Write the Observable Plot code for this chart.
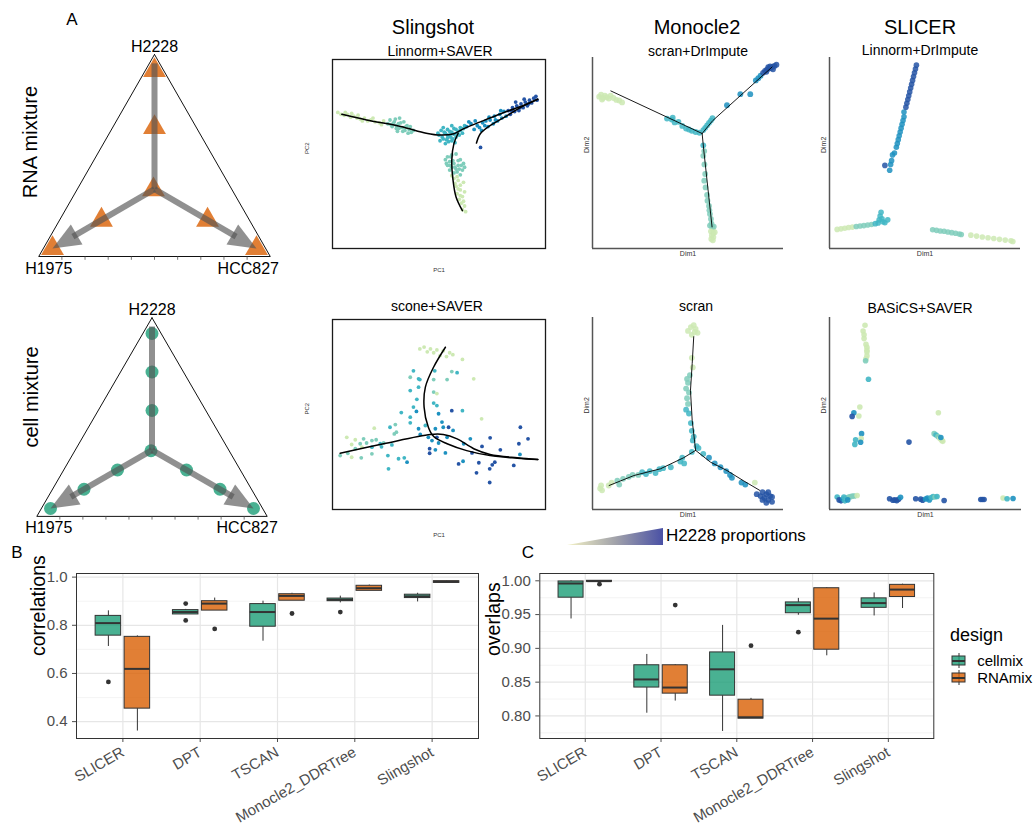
<!DOCTYPE html>
<html><head><meta charset="utf-8">
<script src="https://cdn.jsdelivr.net/npm/d3@7"></script>
<script src="https://cdn.jsdelivr.net/npm/@observablehq/plot@0.6"></script>
<style>
body{margin:0;background:#fff;}
#fig{position:relative;width:1036px;height:825px;overflow:hidden;font-family:"Liberation Sans",Arial,sans-serif;background:#fff;}
.lbl{position:absolute;white-space:nowrap;line-height:1;color:#000;}
</style></head><body><div id="fig"></div>
<script>
// ---------------- DATA ----------------
const ternCorners = ["H2228", "H1975", "HCC827"];
const rnaMix = [[1,0,0],[0.68,0.16,0.16],[0.33,0.33,0.33],[0.16,0.68,0.16],[0.16,0.16,0.68],[0,1,0],[0,0,1]];
const cellMix = [[1,0,0],[0.78,0.11,0.11],[0.56,0.22,0.22],[0.33,0.33,0.33],[0.22,0.56,0.22],[0.11,0.78,0.11],[0,1,0],[0.22,0.22,0.56],[0.11,0.11,0.78],[0,0,1]];
const ternFrame = [[1.09,-0.045,-0.045],[-0.045,1.09,-0.045],[-0.045,-0.045,1.09]];
const ternTicks = [0.1,0.2,0.3,0.4,0.5,0.6,0.7,0.8,0.9];
const arrowTargets = [
  {corner:[1,0,0], head:false, angle:0},
  {corner:[0,1,0], head:true, angle:240},
  {corner:[0,0,1], head:true, angle:120}
];

const propStops = [0, 0.16, 0.33, 0.68, 1];
const propColors = ["#cde9b3", "#7fcdbb", "#41b6c4", "#1d91c0", "#2554a5"];
const legendRamp = [0, 1];

// Slingshot, Linnorm+SAVER : [PC1, PC2, H2228 proportion]
const slingTopPts = [
[2.5,72,0],[4,71,0],[5.5,70.5,0],[7,71,0],[8.5,69.5,0],[10,70,0],[11.5,69,0],[13,68.5,0],[15,69,0],[16.5,67.5,0],[18,68,0],[20,67,0],[22,66.5,0],[24,67.5,0],[6,72,0],[9,71.5,0],[12,70.5,0],[14,67.5,0],[19,69,0],[23,65.5,0],
[26,66,.16],[27,68,.16],[28,64.5,.16],[29,67,.16],[30,65,.16],[31,63.5,.16],[32,66.5,.16],[33,64,.16],[34,62.5,.16],[35,65,.16],[36,63,.16],[37,61.5,.16],[30.5,62,.16],[33.5,67,.16],
[28.5,66,.16],[29.5,68.5,.16],[31,66,.16],[32,64,.16],[33,62,.16],[34.5,64.5,.16],[35.5,61,.16],[36.5,64.5,.16],[38,62.5,.16],[31.5,69,.16],[30,63.5,.16],[27.5,65.5,.16],
[50,60,.33],[51,62.5,.33],[52,58,.33],[53,61,.33],[54,63,.33],[54.5,56.5,.33],[55.5,59,.33],[56,61.5,.33],[57,63.5,.33],[58,59,.33],[59,62,.33],[60,64,.33],[53,55.5,.33],[57.5,56,.33],[61,61,.33],[52,64,.33],[54,60,.33],[58.5,61,.33],[50.5,57,.33],[56,65,.33],
[51.5,59,.33],[52.5,61.5,.33],[53.5,57.5,.33],[55,62,.33],[55,60,.33],[56.5,58,.33],[57,60.5,.33],[58,63,.33],[59.5,60,.33],[60,62.5,.33],[61.5,63.5,.33],[62,65,.33],[49.5,61,.33],[54,58.5,.33],[56,57,.33],
[53,47,.16],[55,46,.16],[57,45,.16],[59,46.5,.16],[60.5,44,.16],[56,43,.16],[58,42,.16],[61,41.5,.16],[54,44,.16],[57,40,.16],[60,39,.16],[55.5,48.5,.16],[58,50,.16],
[53.5,45,.16],[55,44,.16],[56.5,46.5,.16],[57.5,43,.16],[59,44,.16],[60,47,.16],[61.5,45,.16],[62,43,.16],[55,41.5,.16],[58.5,40.5,.16],[56,49.5,.16],[54,48.5,.16],[59.5,42,.16],
[59,36,0],[57,37,0],[58,33,0],[60,31,0],[58.5,29,0],[61,27.5,0],[59.5,26,0],[60.5,24,0],[62,22.5,0],[61,20.5,0],[57.5,34.5,0],[62,30,0],[60,33.5,0],[58.5,38,0],[61.5,35,0],[59,31.5,0],[61.5,25,0],[60,28,0],[62.5,19.5,0],[56,38.5,0],
[63,64.5,.68],[65,66,.68],[66.5,63,.68],[68,65,.68],[70,62.5,.68],[70.5,66.5,.68],[72,67.5,.68],[73,64.5,.68],[74,68,.68],[75.5,66,.68],[76,70,.68],[77.5,67.5,.68],[78.5,71,.68],[79.5,69,.68],[80.5,72.5,.68],[81.5,70,.68],
[64,67,.68],[67,67.5,.68],[69,64,.68],[71.5,65,.68],[73.5,69.5,.68],[76.5,68,.68],[79,73,.68],
[82.5,73,1],[83.5,71,1],[84.5,74.5,1],[85.5,72.5,1],[86.5,75.5,1],[87.5,73,1],[88.5,76.5,1],[89.5,74.5,1],[90.5,77.5,1],[91.5,75.5,1],[92.5,78.5,1],[93.5,77,1],[94.5,79.5,1],[95.5,80.5,1],[96,78.5,1],[90,79,1],[86,77.5,1],[84,73,1],[88,74.5,1],[92,76.5,1],[69.5,53.5,1]
];
const slingTopCurves = [
[[4.4,71],[16,68],[32,64.6],[44,61],[50.6,60],[57,60.7],[61.6,63.4],[69.4,67],[79,71.3],[88,75],[96.4,79]],
[[59,61],[57,55.5],[56,46.7],[56.6,36],[58,27.3],[61,20]],
[[67.6,55.8],[69.4,60.7],[73.4,64.6],[80.4,69.2],[88.2,74.5],[96.4,79]]
];

// Monocle2, scran+DrImpute : [Dim1, Dim2, proportion]
const monoTopPts = [
[3.5,79.5,0],[4.5,80.5,0],[5.5,78.8,0],[6.5,80,0],[7.5,79.2,0],[8.5,78.5,0],[9.5,80,0],[11,78.8,0],[12.5,77.8,0],[14,77.5,0],[15.5,76.5,0],[5,78,0],
[39,68,.33],[41.5,67.5,.33],[43,66,.33],[45,66.3,.33],[47,64.2,.33],[49,62.8,.33],[50.5,62.3,.33],[52,61.6,.33],[54,61,.33],[56,60.6,.33],[42,68.5,.33],
[58,62,.33],[59,63.2,.33],[60,64.5,.33],[61,65.8,.33],[62,67,.33],[62.8,68.2,.33],
[70.4,75,.68],[77.4,80.8,.68],[82.6,80.8,.68],[85.5,88,.68],[86.8,89.2,.68],[88,90.5,.68],[89.3,92,1],[90.3,93,1],[91.3,93.6,1],[92.3,94.2,1],[93.3,94.5,1],[94.3,95.2,1],[95.3,95.6,1],[96.3,96.2,1],[93,95.3,1],[91,92.5,1],[94.5,93.8,1],[92,95,1],
[58,54,.33],[58.5,51,.16],[58,48.5,.16],[58.6,44,.16],[59,39,.16],[58.5,35.5,.16],[59.2,32,.16],[60,28,.16],[60.2,25,.16],[61,22.3,.16],[61.2,20,.16],[61.5,18,.16],[62,15.5,.16],[62.3,13,.16],[62.6,11.3,.16],
[63,10,0],[62,9,0],[63.2,8,0],[62.5,7,0],[63.3,6,0],[62.2,5,0],[63,4.3,0],[64,8.5,0],[61.5,12,.16],[63.5,11.5,.16]
];
const monoTopTree = [
[[57.4,60.2],[9.6,82.5]],
[[57.4,60.2],[63,67],[94,95]],
[[57.4,60.2],[58.2,52],[62.6,11.3]]
];

// SLICER, Linnorm+DrImpute
const slicerTopPts = [
[29,43.5,1],[31.5,41,.68],[32,44,.68],[32.5,46,.68],[33,49,.68],[34,50,.68],[35,53,.68],[35.5,55,.68],[36,57,.68],[36.5,59,.68],[37,61,.68],[37.5,63,.68],[38,65,.68],[38.5,67,.68],[39,69,.68],[39,71.5,.68],
[40,74,1],[40.5,76,1],[41,78,1],[41.5,80,1],[42,82,1],[42.5,84,1],[43,86,1],[43.5,88,1],[44,90,1],[44.5,92,1],[45,94,1],[45.5,96,1],
[4,10,0],[6,10.3,0],[8,10.6,0],[10,11,0],[12,11.2,0],[14,11.5,.16],[16,11.8,.16],[18,12,.16],[20,12.3,.16],[22,12.6,.16],
[24,13,.33],[25.5,13.4,.33],[26,15,.33],[26.5,17,.33],[27,19,.33],[27.5,15.5,.33],[28,14,.33],[29,13.5,.33],[30.5,15,.33],
[54,9.8,.16],[56,9.5,.16],[58,9.2,.16],[60,9,.16],[62,8.6,.16],[64,8.3,.16],[66,8,.16],[68,7.6,.16],[69,7.3,.16],
[74,7,0],[77,6.5,0],[80,6,0],[83,5.6,0],[86,5.2,0],[89,4.8,0],[92,4.4,0],[95,4,0],[96,3.7,0]
];

// Slingshot, scone+SAVER
const slingBotPts = [
[41,84.5,0],[43,85.5,0],[44.5,83,0],[46,84.5,0],[47.5,82.5,0],[49,84,0],[50.5,81,0],[52,83.5,0],[53.5,80.5,0],[55,82.5,0],[56.5,81.5,0],[61,79,0],
[38,73,.33],[36.5,69.6,.16],[40.4,68.8,.33],[41,68.4,.33],[47.5,68.4,.16],[48,73,.33],[53.8,68.4,.16],[56,72.6,.16],[58.5,72,.33],[66.3,68.8,0],
[40.4,64.4,.33],[47.5,61.8,.16],[49,61,0],[36.5,62.6,.33],[39.6,58,.33],[47.5,56,.33],[49,54.7,.33],[38,53.9,.33],[56,52,1],[61,52,.33],
[32.3,51,.33],[39.4,51.6,.68],[36.5,48.6,.33],[49.8,50.4,.68],[51.4,46,.68],[70,47.7,0],[19.6,42.8,0],[27,43.3,.33],[29.5,44.7,.16],[30,40.7,.16],[29,39.8,.16],
[36.5,45.6,.33],[40.4,42.5,.68],[43.6,44.2,.33],[48.3,42.5,.68],[52,43.3,.68],[54.5,43.3,1],[56.6,41.6,.68],[41.2,39.5,.68],[45,38,.68],[46.7,36.3,.68],[49,38,1],[49.8,35,.68],[45.6,32,1],[48.3,31.4,.68],[45.6,29.6,1],[53,29.8,.68],[53.8,38,.68],
[6.7,38,0],[10.7,36.7,0],[14.6,37.2,.16],[9,34.2,0],[13,34.6,.16],[16,35,.16],[18.5,36.3,.16],[20.5,36.7,.16],[22.4,34.6,.33],[24,35,.16],[10.7,32,.16],[13.8,32.8,0],[18.5,32.8,.33],[7.2,29.6,.16],[9,27.5,0],[13.5,27.2,.16],[18.5,29.3,.16],[3.6,28.4,.16],[27.9,34,.33],[23,33,.33],
[26,28.4,.33],[31,26.7,.33],[33.7,27.2,.33],[35,24.9,.68],[26.3,21.4,.33],
[88.2,43.3,1],[74,37.7,1],[87.5,34.6,1],[91.8,37.2,1],[70.2,33.2,1],[78.8,31.4,1],[65.5,29.8,1],[88,29,.68],[76.2,24.9,1],[61.3,25.4,.68],[59.2,24,1],[68.7,24.6,1],[73.8,21.4,1],[67.6,19.3,1],[85.1,23.2,1],[73.8,14.2,1],[75,23.5,1],[64.7,37.2,.68],[61.6,34.6,.68]
];
const slingBotCurves = [
[[3.6,29.6],[24,34.6],[46,39.5],[52,39.5],[58.5,37.2],[66.3,32],[74,29],[86.7,27.2],[96.4,26.3]],
[[53,85.4],[47.5,75],[43.6,64.4],[43,53.9],[45,43.3],[47.5,38.4],[53.8,34.6],[63,31],[74,28.4],[86.7,27],[96.4,26.3]]
];

// Monocle2, scran
const scranPts = [
[50,93,0],[51.5,95,0],[53,96,0],[54,94,0],[55,92,0],[52,91,0],[53.5,92.5,0],
[52,79,0],[52.5,74,0],[51,70,.16],[49.5,68,.16],[50,66,.16],[49,63,.16],[50.5,61,.16],[49.5,58,.16],[50,55,.16],[49,52,.33],[50.5,50,.33],[51.5,45,.33],[52,41,.33],[53,38,.33],[52.5,36,.33],[54.5,33,.33],[55.5,32,.33],
[4,11,0],[4.5,12.5,0],[5,10,0],[8.5,12.5,0],[10,14,0],[13,15,.16],[14,13,.16],[16,16,.16],[19,17,.16],[21,18,.16],[24,18,.16],[26,19.5,.33],[28,18.5,.33],[30,20,.33],[33,19,.33],[35,21,.33],[37,21.5,.33],[41,22,.33],[46,25,.33],[47,27,.33],[48,24,.33],[52,30,.33],
[58,29,.33],[61,27,.68],[64,24,.68],[67,22,.68],[70,20,.68],[72,18,.68],[73,16.5,.68],[78,14,.68],[80,13,.68],[85,14,0],
[86,8,1],[88,7,1],[89,9,1],[90,6,1],[91,8,1],[92,5,1],[93,7,1],[94,4,1],[92,9,1],[94,6.5,1],[89,5,1],[91,3.5,1]
];
const scranTree = [
[[53,90],[52.2,76],[51.3,62],[52.2,46.4],[54,30.8]],
[[54,30.8],[47.8,27],[35.6,21.2],[21.7,17.7],[8.7,12.5]],
[[54,30.8],[61.7,24.7],[70.4,20.3],[79,15],[87.5,10]]
];

// SLICER, BASiCS+SAVER
const basicsPts = [
[18.5,96,0],[17.5,93,0],[18,91,0],[18,89,0],[19,86,0],[19.5,84.5,0],[19.5,83,0],[19.5,82,0],[19.5,80,0],[19,78.5,0],[18.8,77.5,.16],
[20.3,67.8,.33],[15.8,53.4,0],[15.3,48.7,0],[12.7,50.4,.68],[11.8,48.5,1],
[16.7,39.5,.68],[16.5,36.9,0],[13.6,36.3,.33],[13.2,33.9,.33],[16.2,35,.68],
[41.4,35.1,1],[56.7,50.4,0],
[54.5,39.5,.16],[55.5,38.8,.33],[56.5,38,.16],[57.5,37,0],[58.5,36,0],[59,35.5,0],[58,37.5,.68],
[4,6.5,.33],[5,5,1],[6,4.5,1],[7,5.5,.68],[8,4.5,.33],[9,6,.16],[10,6.5,.16],[11,6.7,.16],[12,7,.16],[13,7,.16],[14.4,7.3,0],[7.5,6.5,.33],[9.5,5,.68],
[31.3,5.6,1],[33,4.8,1],[34,5,1],[35,4.6,1],[36,5.3,1],[37,6.4,.68],
[44.9,5.6,1],[47.5,5.4,1],[48.5,4.8,1],[50,5.5,.68],[51,6,.68],[52,5,.68],[53,6.2,.33],[54,6.7,.33],[55,6.5,.16],[56,6.8,.33],[59.7,4.7,1],
[78.8,5.2,1],[79.6,5.2,1],[80.5,5.2,1],
[90.4,6,0],[92.5,5.6,.33],[95.6,5.7,.68]
];

// Boxplots
const methods = ["SLICER", "DPT", "TSCAN", "Monocle2_DDRTree", "Slingshot"];
const designs = ["cellmix", "RNAmix"];
const designColors = ["#1b9e77", "#d95f02"];
// [method, design, lower whisker, q1, median, q3, upper whisker]
const corrStats = [
["SLICER","cellmix",0.712,0.757,0.809,0.839,0.860],
["SLICER","RNAmix",0.361,0.454,0.619,0.752,0.756],
["DPT","cellmix",0.845,0.845,0.855,0.863,0.866],
["DPT","RNAmix",0.861,0.861,0.890,0.900,0.913],
["TSCAN","cellmix",0.734,0.794,0.855,0.888,0.900],
["TSCAN","RNAmix",0.902,0.902,0.922,0.929,0.933],
["Monocle2_DDRTree","cellmix",0.893,0.900,0.906,0.911,0.921],
["Monocle2_DDRTree","RNAmix",0.943,0.943,0.954,0.964,0.967],
["Slingshot","cellmix",0.897,0.913,0.920,0.927,0.933],
["Slingshot","RNAmix",0.976,0.976,0.981,0.983,0.984]
];
const corrOutliers = [
["SLICER","cellmix",0.565],["DPT","cellmix",0.890],["DPT","cellmix",0.820],
["DPT","RNAmix",0.785],["TSCAN","RNAmix",0.849],["Monocle2_DDRTree","cellmix",0.855]
];
const overlapStats = [
["SLICER","cellmix",0.9435,0.975,0.996,0.999,1.000],
["SLICER","RNAmix",0.9985,0.9985,0.9995,1.000,1.000],
["DPT","cellmix",0.804,0.842,0.854,0.875,0.891],
["DPT","RNAmix",0.822,0.833,0.842,0.875,0.876],
["TSCAN","cellmix",0.777,0.830,0.869,0.894,0.934],
["TSCAN","RNAmix",0.796,0.796,0.798,0.824,0.826],
["Monocle2_DDRTree","cellmix",0.949,0.952,0.964,0.968,0.974],
["Monocle2_DDRTree","RNAmix",0.889,0.898,0.944,0.989,0.990],
["Slingshot","cellmix",0.948,0.960,0.967,0.974,0.982],
["Slingshot","RNAmix",0.959,0.976,0.987,0.994,0.995]
];
const overlapOutliers = [
["SLICER","RNAmix",0.995],["DPT","RNAmix",0.964],["TSCAN","RNAmix",0.904],["Monocle2_DDRTree","cellmix",0.924]
];
const corrTicks = [0.4, 0.6, 0.8, 1.0];
const corrMinor = [0.5, 0.7, 0.9];
const overlapTicks = [0.80, 0.85, 0.90, 0.95, 1.00];
const overlapMinor = [0.775, 0.825, 0.875, 0.925, 0.975];

// ---------------- HELPERS ----------------
const FONT = '"Liberation Sans", Arial, sans-serif';
const fig = document.getElementById("fig");
function put(el, left, top) {
  el.style.position = "absolute"; el.style.left = left + "px"; el.style.top = top + "px";
  fig.appendChild(el); return el;
}
function label(txt, x, baseline, size, anchor = "middle", color = "#000") {
  const d = document.createElement("div");
  d.className = "lbl"; d.textContent = txt;
  d.style.fontSize = size + "px"; d.style.color = color;
  d.style.left = x + "px"; d.style.top = (baseline - 0.85 * size) + "px";
  d.style.transform = `translateX(${anchor === "middle" ? "-50%" : anchor === "end" ? "-100%" : "0"})`;
  fig.appendChild(d);
}
function vlabel(txt, cx, cy, size) {
  const d = document.createElement("div");
  d.className = "lbl"; d.textContent = txt; d.style.fontSize = size + "px";
  d.style.left = cx + "px"; d.style.top = cy + "px";
  d.style.transform = "translate(-50%,-50%) rotate(-90deg)";
  fig.appendChild(d);
}
const baseStyle = {background: "transparent", overflow: "visible", fontFamily: FONT};

// ---------------- TERNARY ----------------
const S3 = Math.sqrt(3) / 2;
const tx = t => t[2] + t[0] / 2;
const ty = t => t[0] * S3;
const center = [1/3, 1/3, 1/3];
const mix = (t, k) => center.map((c, i) => c + (t[i] - c) * k);
function arrowHead(deg) {
  const a = deg * Math.PI / 180, c = Math.cos(a), s = Math.sin(a);
  const rot = ([x, y]) => [x * c - y * s, x * s + y * c];
  return {draw(ctx, size) {
    const r = Math.sqrt(size / Math.PI), L = 1.8 * r, w = 0.75 * r;
    const p = [[0, 0], [w, L], [-w, L]].map(rot);
    ctx.moveTo(p[0][0], p[0][1]); ctx.lineTo(p[1][0], p[1][1]); ctx.lineTo(p[2][0], p[2][1]); ctx.closePath();
  }};
}
function ternaryPlot(points, kind, ml, mr, mt, dxL, dxR, dyB) {
  const xL = tx(ternFrame[1]), xR = tx(ternFrame[2]), yB = ty(ternFrame[1]);
  const marker = kind === "tri"
    ? Plot.dot(points, {x: tx, y: ty, symbol: "triangle", r: 8.5, fill: "#d95f02", fillOpacity: 0.8})
    : Plot.dot(points, {x: tx, y: ty, r: 6.5, fill: "#1b9e77", fillOpacity: 0.8});
  const offs = [[0, -8], [dxL, dyB], [dxR, dyB]];
  return Plot.plot({
    width: 300, height: 280, marginLeft: ml, marginRight: mr, marginTop: mt, marginBottom: 32,
    style: baseStyle,
    x: {domain: [0, 1], axis: null},
    y: {domain: [0, S3], axis: null},
    marks: [
      Plot.line([...ternFrame, ternFrame[0]], {x: tx, y: ty, stroke: "#111", strokeWidth: 1}),
      Plot.link(ternTicks, {x1: f => xL + f * (xR - xL), x2: f => xL + f * (xR - xL), y1: yB, y2: yB - 0.016, stroke: "#555", strokeWidth: 0.8}),
      marker,
      Plot.link(arrowTargets, {x1: tx(center), y1: ty(center),
        x2: d => tx(mix(d.corner, d.head ? 0.8 : 1.06)), y2: d => ty(mix(d.corner, d.head ? 0.8 : 1.06)),
        stroke: "#555", strokeOpacity: 0.65, strokeWidth: 6}),
      ...arrowTargets.filter(d => d.head).map(d =>
        Plot.dot([d], {x: e => tx(e.corner), y: e => ty(e.corner), symbol: arrowHead(d.angle), r: 15.5, fill: "#555", fillOpacity: 0.65})),
      ...ternCorners.map((name, i) => Plot.text([name], {x: tx(ternFrame[i]), y: ty(ternFrame[i]),
        dx: offs[i][0], dy: offs[i][1], fontSize: 16, fill: "#000"}))
    ]
  });
}

// ---------------- SCATTER PANELS ----------------
function scatter({pts, curves = [], framed, w, h, ml, mt, mr, mb, r, op = 1, xlab, ylab, curve = "linear", lw = 1, labSize = 7, xlDy, ylDx}) {
  const rows = curves.flatMap((c, k) => c.map(([x, y]) => ({x, y, k})));
  const marks = [];
  if (framed) marks.push(Plot.frame({stroke: "#1a1a1a", strokeWidth: 1.3}));
  else marks.push(Plot.ruleX([0], {stroke: "#555", strokeWidth: 1.5}), Plot.ruleY([0], {stroke: "#555", strokeWidth: 1.5}));
  marks.push(Plot.dot(pts, {x: d => d[0], y: d => d[1], fill: d => d[2], r, fillOpacity: op}));
  if (rows.length) marks.push(Plot.line(rows, {x: "x", y: "y", z: "k", stroke: "#000", strokeWidth: lw, curve}));
  marks.push(Plot.text([xlab], {frameAnchor: "bottom", dy: xlDy, fontSize: labSize, fill: "#333"}));
  marks.push(Plot.text([ylab], {frameAnchor: "left", dx: ylDx, rotate: -90, fontSize: labSize, fill: "#333"}));
  return Plot.plot({
    width: w, height: h, marginLeft: ml, marginTop: mt, marginRight: mr, marginBottom: mb,
    style: baseStyle,
    x: {domain: [0, 100], axis: null},
    y: {domain: [0, 100], axis: null},
    color: {type: "linear", domain: propStops, range: propColors},
    marks
  });
}

// ---------------- BOXPLOTS ----------------
function boxPanel({stats, outliers, ticks, minor, domain, fmt, w, ml, mr, title, titleDx}) {
  const pos = d => methods.indexOf(d[0]) + 1 + (d[1] === designs[0] ? -0.1875 : 0.1875);
  const hw = 0.165;
  const cats = methods.map((m, i) => i + 1);
  return Plot.plot({
    width: w, height: 270, marginLeft: ml, marginRight: mr, marginTop: 18, marginBottom: 87,
    style: {...baseStyle, fontSize: "15px", color: "#4d4d4d"},
    x: {domain: [0.4, 5.6], ticks: cats, tickFormat: i => methods[i - 1], tickRotate: -30, tickSize: 4, label: null},
    y: {domain, ticks, tickFormat: fmt, tickSize: 4, label: null},
    color: {domain: designs, range: designColors},
    marks: [
      Plot.ruleY(minor, {stroke: "#efefef", strokeWidth: 0.7}),
      Plot.ruleY(ticks, {stroke: "#e6e6e6", strokeWidth: 1.2}),
      Plot.ruleX(cats, {stroke: "#e6e6e6", strokeWidth: 1.2}),
      Plot.ruleX(stats, {x: pos, y1: d => d[2], y2: d => d[3], stroke: "#333", strokeWidth: 1}),
      Plot.ruleX(stats, {x: pos, y1: d => d[5], y2: d => d[6], stroke: "#333", strokeWidth: 1}),
      Plot.rect(stats, {x1: d => pos(d) - hw, x2: d => pos(d) + hw, y1: d => d[3], y2: d => d[5], fill: d => d[1], fillOpacity: 0.8, stroke: "#333", strokeWidth: 1}),
      Plot.ruleY(stats, {y: d => d[4], x1: d => pos(d) - hw, x2: d => pos(d) + hw, stroke: "#333", strokeWidth: 2}),
      Plot.dot(outliers, {x: pos, y: d => d[2], r: 2.4, fill: "#333"}),
      Plot.frame({stroke: "#333", strokeWidth: 1}),
      Plot.text([title], {frameAnchor: "left", dx: titleDx, rotate: -90, fontSize: 19.5, fill: "#000"})
    ]
  });
}

// ---------------- BUILD ----------------
put(ternaryPlot(rnaMix, "tri", 52, 44, 70, 10, -22, 12), 0, 0);
put(ternaryPlot(cellMix, "dot", 50, 47, 73, 12, -20, 11), 0, 260);

put(scatter({pts: slingTopPts, curves: slingTopCurves, framed: true, w: 248, h: 224, ml: 30, mt: 5, mr: 5, mb: 30, r: 1.9,
  xlab: "PC1", ylab: "PC2", curve: "catmull-rom", lw: 1.5, labSize: 6, xlDy: 23, ylDx: -25}), 302, 54);
put(scatter({pts: monoTopPts, curves: monoTopTree, framed: false, w: 219, h: 211, ml: 20, mt: 5, mr: 8, mb: 15, r: 2.9, op: 0.85,
  xlab: "Dim1", ylab: "Dim2", lw: 0.9, xlDy: 7, ylDx: -6}), 572, 52);
put(scatter({pts: slicerTopPts, framed: false, w: 219, h: 211, ml: 20, mt: 5, mr: 8, mb: 15, r: 2.8, op: 0.85,
  xlab: "Dim1", ylab: "Dim2", xlDy: 7, ylDx: -6}), 809, 52);
put(scatter({pts: slingBotPts, curves: slingBotCurves, framed: true, w: 248, h: 225, ml: 30, mt: 5, mr: 5, mb: 30, r: 1.9,
  xlab: "PC1", ylab: "PC2", curve: "catmull-rom", lw: 1.5, labSize: 6, xlDy: 27, ylDx: -25}), 302, 314);
put(scatter({pts: scranPts, curves: scranTree, framed: false, w: 219, h: 212, ml: 20, mt: 5, mr: 8, mb: 15, r: 2.9, op: 0.85,
  xlab: "Dim1", ylab: "Dim2", lw: 0.9, xlDy: 7, ylDx: -6}), 572, 312);
put(scatter({pts: basicsPts, framed: false, w: 220, h: 212, ml: 20, mt: 5, mr: 8, mb: 15, r: 2.8, op: 0.9,
  xlab: "Dim1", ylab: "Dim2", xlDy: 7, ylDx: -6}), 809, 312);

// gradient legend wedge
const ramp = Plot.plot({
  width: 110, height: 24, marginLeft: 7, marginRight: 7, marginTop: 3, marginBottom: 4,
  style: baseStyle,
  x: {domain: [0, 1], axis: null}, y: {domain: [0, 1], axis: null},
  marks: [Plot.areaY(legendRamp, {x: d => d, y1: 0, y2: d => d, fill: "url(#h2228ramp)"})]
});
ramp.insertAdjacentHTML("afterbegin",
  '<defs><linearGradient id="h2228ramp" x1="0" x2="1" y1="0" y2="0">' +
  '<stop offset="0" stop-color="#f4f2c6"/><stop offset="0.5" stop-color="#a2a3aa"/><stop offset="1" stop-color="#4a51a5"/>' +
  '</linearGradient></defs>');
put(ramp, 560, 525);

put(boxPanel({stats: corrStats, outliers: corrOutliers, ticks: corrTicks, minor: corrMinor, domain: [0.33, 1.015],
  fmt: d3.format(".1f"), w: 485, ml: 76, mr: 7, title: "correlations", titleDx: -38}), 0, 555);
put(boxPanel({stats: overlapStats, outliers: overlapOutliers, ticks: overlapTicks, minor: overlapMinor, domain: [0.7666, 1.0108],
  fmt: d3.format(".2f"), w: 450, ml: 49.3, mr: 6.7, title: "overlaps", titleDx: -46}), 490, 555);

// design legend
const keyRows = designs.map((d, i) => ({d, i}));
put(Plot.plot({
  width: 88, height: 40, margin: 0,
  style: baseStyle,
  x: {domain: [0, 88], axis: null}, y: {domain: [0, 40], range: [0, 40], axis: null},
  color: {domain: designs, range: designColors},
  marks: [
    Plot.ruleX(keyRows, {x: 10.5, y1: r => 3 + r.i * 17, y2: r => 18 + r.i * 17, stroke: "#333"}),
    Plot.rect(keyRows, {x1: 4, x2: 17, y1: r => 6 + r.i * 17, y2: r => 15 + r.i * 17, fill: r => r.d, fillOpacity: 0.8, stroke: "#333"}),
    Plot.ruleY(keyRows, {y: r => 10.5 + r.i * 17, x1: 4, x2: 17, stroke: "#333", strokeWidth: 2}),
    Plot.text(keyRows, {x: 28.7, y: r => 10.5 + r.i * 17, text: r => r.d, textAnchor: "start", fontSize: 15, fill: "#000"})
  ]
}), 948, 650);

// ---------------- TEXT ----------------
label("A", 72, 25, 17);
label("B", 17, 558, 17);
label("C", 528, 558, 17);
label("Slingshot", 433, 34, 20);
label("Monocle2", 697, 34, 20);
label("SLICER", 920, 34, 20);
label("Linnorm+SAVER", 440, 56, 14);
label("scran+DrImpute", 698, 56, 14);
label("Linnorm+DrImpute", 920, 55, 14);
label("scone+SAVER", 437, 311, 14);
label("scran", 696, 311, 14);
label("BASiCS+SAVER", 920, 313, 14);
vlabel("RNA mixture", 30, 142, 20);
vlabel("cell mixture", 31, 397, 20);
label("H2228 proportions", 666, 541, 17, "start");
label("design", 950, 641, 18, "start");
</script></body></html>
